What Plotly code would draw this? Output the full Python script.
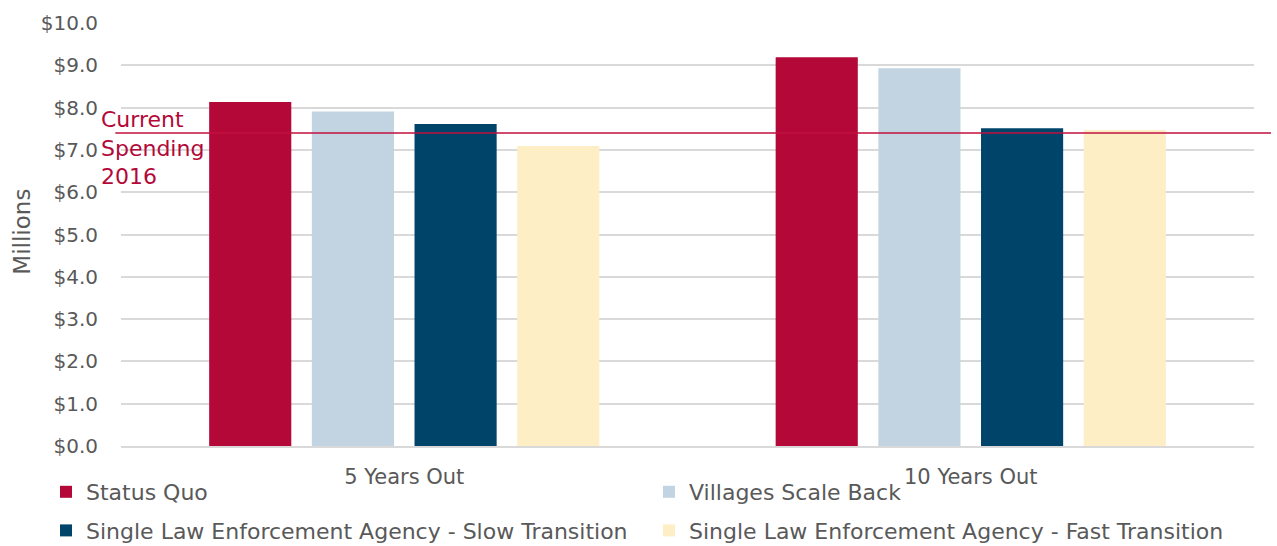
import plotly.graph_objects as go

# Spending projections (millions of dollars)
periods = ["5 Years Out", "10 Years Out"]
scenarios = [
    "Status Quo",
    "Villages Scale Back",
    "Single Law Enforcement Agency - Slow Transition",
    "Single Law Enforcement Agency - Fast Transition",
]
status_quo = [8.13, 9.19]
villages_scale_back = [7.91, 8.93]
slow_transition = [7.61, 7.51]
fast_transition = [7.09, 7.47]
current_spending_2016 = 7.4

tick_vals = [0, 1, 2, 3, 4, 5, 6, 7, 8, 9, 10]
tick_text = ["$%.1f" % v for v in tick_vals]

colors = ["#B30838", "#C2D3E1", "#00446A", "#FDEEC6"]
series = [status_quo, villages_scale_back, slow_transition, fast_transition]
legend_ids = ["legend", "legend2", "legend", "legend2"]

FONT = "DejaVu Sans"
GRAY = "#595959"
W, H = 1277, 546

fig = go.Figure()
for name, vals, col, lg in zip(scenarios, series, colors, legend_ids):
    fig.add_trace(go.Bar(
        x=periods, y=vals, name=name, marker_color=col,
        marker_line_width=0, legend=lg, legendgroup=name,
    ))

# 2016 spending reference line
fig.add_shape(type="line", xref="paper", yref="y",
              x0=-0.005, x1=1.015, y0=current_spending_2016, y1=current_spending_2016,
              line=dict(color="#C0103F", width=1.5), layer="above")
fig.add_annotation(xref="paper", yref="y", x=-0.0195, y=current_spending_2016 - 0.36,
                   text="Current<br>Spending<br>2016", showarrow=False,
                   xanchor="left", yanchor="middle", align="left",
                   font=dict(family=FONT, size=22, color="#B30838"))

# vertical axis caption
fig.add_annotation(xref="paper", yref="paper", x=-(121 - 22) / 1133, y=(446 - 231.5) / 423.3,
                   text="Millions", textangle=-90, showarrow=False,
                   xanchor="center", yanchor="middle",
                   font=dict(family=FONT, size=23, color=GRAY))

fig.update_layout(
    width=W, height=H,
    margin=dict(l=121, r=23, t=23, b=100, autoexpand=False),
    paper_bgcolor="white", plot_bgcolor="white",
    font=dict(family=FONT, size=20, color=GRAY),
    barmode="group", bargap=0.275, bargroupgap=0.2,
    showlegend=True,
    legend=dict(xref="container", yref="container",
                x=46 / W, y=1 - 471 / H, xanchor="left", yanchor="top",
                orientation="v", tracegroupgap=7,
                font=dict(family=FONT, size=22, color=GRAY),
                bgcolor="rgba(0,0,0,0)"),
    legend2=dict(xref="container", yref="container",
                 x=649 / W, y=1 - 471 / H, xanchor="left", yanchor="top",
                 orientation="v", tracegroupgap=7,
                 font=dict(family=FONT, size=22, color=GRAY),
                 bgcolor="rgba(0,0,0,0)"),
)

fig.update_xaxes(showgrid=False, showline=True, linecolor="#D9D9D9", linewidth=2,
                 ticks="outside", ticklen=11, tickcolor="rgba(0,0,0,0)",
                 tickangle=0,
                 tickfont=dict(family=FONT, size=21, color=GRAY))
fig.update_yaxes(range=[0, 10], tickvals=tick_vals, ticktext=tick_text,
                 showgrid=True, gridcolor="#D9D9D9", gridwidth=2,
                 zeroline=False, showline=False,
                 ticks="outside", ticklen=18, tickcolor="rgba(0,0,0,0)",
                 tickfont=dict(family=FONT, size=20, color=GRAY))

fig.write_html("out.html")
